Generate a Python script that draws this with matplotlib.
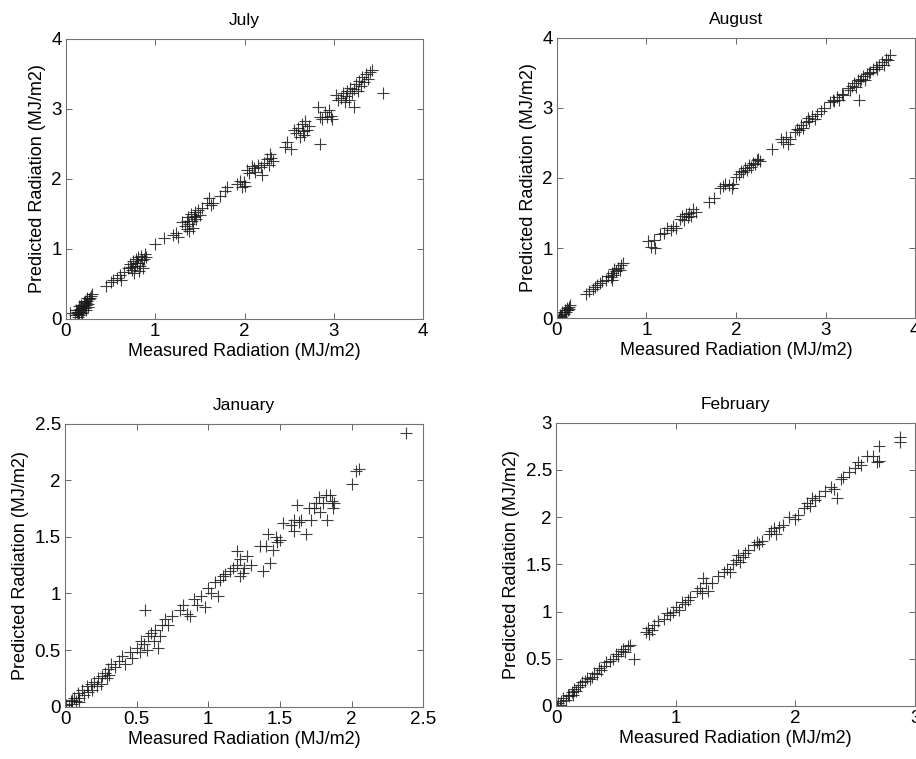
"""Four-panel scatter: predicted vs measured hourly radiation for four months."""

import matplotlib

matplotlib.use("Agg")
import matplotlib.pyplot as plt

plt.rcParams["font.family"] = ["Liberation Sans", "DejaVu Sans"]

# ---- data (MJ/m2) ----
july_measured = [
    0.04, 0.10, 0.12, 0.13, 0.14, 0.15, 0.16, 0.17, 0.18, 0.19, 0.20, 0.21, 0.22,
    0.23, 0.24, 0.25, 0.26, 0.27, 0.28, 0.13, 0.18, 0.22, 0.25, 0.20, 0.15,
    0.11, 0.14, 0.17, 0.21, 0.24, 0.29,
    0.45, 0.50, 0.53, 0.57, 0.60, 0.62, 0.65,
    0.70, 0.72, 0.74, 0.75, 0.77, 0.78, 0.80, 0.81, 0.83, 0.84, 0.85, 0.86, 0.87,
    0.88, 0.82, 0.76, 0.90, 0.79, 0.73,
    1.00, 1.10, 1.20, 1.23, 1.25,
    1.30, 1.33, 1.35, 1.37, 1.38, 1.40, 1.41, 1.43, 1.45, 1.46, 1.48, 1.50, 1.38,
    1.42, 1.52, 1.36, 1.44,
    1.58, 1.60, 1.62, 1.65, 1.72, 1.78, 1.80,
    1.92, 1.95, 1.97, 1.99, 2.00,
    2.03, 2.05, 2.08, 2.10, 2.12, 2.15, 2.18, 2.20, 2.22, 2.25, 2.27, 2.28, 2.30,
    2.32,
    2.45, 2.48, 2.52,
    2.58, 2.60, 2.62, 2.64, 2.65, 2.67, 2.68, 2.70, 2.72, 2.55,
    2.82, 2.85, 2.87, 2.90, 2.92, 2.95, 2.97, 2.98, 2.85,
    3.02, 3.05, 3.08, 3.10, 3.12, 3.14, 3.15, 3.17, 3.18, 3.20, 3.22, 3.23, 3.25,
    3.27, 3.28, 3.30, 3.32, 3.34, 3.36, 3.38, 3.40, 3.43, 3.55,
]
july_predicted = [
    0.08, 0.05, 0.10, 0.07, 0.12, 0.05, 0.14, 0.10, 0.16, 0.12, 0.18, 0.15, 0.22,
    0.19, 0.25, 0.21, 0.28, 0.30, 0.33, 0.03, 0.08, 0.12, 0.17, 0.24, 0.18,
    0.13, 0.09, 0.20, 0.26, 0.30, 0.36,
    0.47, 0.52, 0.55, 0.58, 0.63, 0.55, 0.67,
    0.72, 0.78, 0.70, 0.82, 0.75, 0.85, 0.80, 0.88, 0.76, 0.90, 0.84, 0.72, 0.86,
    0.93, 0.68, 0.66, 0.88, 0.79, 0.74,
    1.07, 1.15, 1.19, 1.22, 1.17,
    1.38, 1.33, 1.28, 1.45, 1.35, 1.50, 1.40, 1.45, 1.52, 1.42, 1.55, 1.48, 1.25,
    1.30, 1.58, 1.40, 1.47,
    1.65, 1.72, 1.62, 1.65, 1.75, 1.82, 1.88,
    1.93, 1.97, 1.88, 1.95, 1.90,
    2.12, 2.08, 2.18, 2.15, 2.10, 2.20, 2.17, 2.05, 2.22, 2.28, 2.20, 2.35, 2.30,
    2.25,
    2.45, 2.52, 2.42,
    2.65, 2.72, 2.60, 2.78, 2.68, 2.62, 2.82, 2.70, 2.75, 2.70,
    3.02, 2.88, 2.85, 2.95, 2.88, 2.98, 2.90, 2.85, 2.50,
    3.20, 3.12, 3.15, 3.22, 3.10, 3.18, 3.25, 3.12, 3.30, 3.22, 3.28, 3.02, 3.35,
    3.25, 3.40, 3.32, 3.45, 3.38, 3.50, 3.42, 3.52, 3.55, 3.22,
]

august_measured = [
    0.02, 0.03, 0.05, 0.06, 0.08, 0.09, 0.10, 0.11, 0.12, 0.13, 0.14, 0.15, 0.04,
    0.33, 0.36, 0.40, 0.42, 0.45, 0.48, 0.50,
    0.55, 0.57, 0.60, 0.61, 0.63, 0.64, 0.66, 0.68, 0.70, 0.72, 0.74, 0.62,
    1.02, 1.05, 1.08, 1.10, 1.15, 1.20, 1.23, 1.27, 1.30, 1.33,
    1.38, 1.40, 1.42, 1.44, 1.46, 1.48, 1.50, 1.52, 1.55,
    1.70, 1.75,
    1.82, 1.85, 1.88, 1.92, 1.95, 1.97,
    2.00, 2.03, 2.06, 2.08, 2.10, 2.12, 2.15, 2.17, 2.19, 2.21, 2.23, 2.25, 2.27,
    2.40,
    2.50, 2.53, 2.56, 2.58, 2.60,
    2.66, 2.68, 2.70, 2.73, 2.75, 2.78, 2.80, 2.82, 2.85, 2.88, 2.90,
    2.95, 2.98,
    3.05, 3.08, 3.10, 3.13, 3.15, 3.18, 3.20,
    3.25, 3.27, 3.30, 3.32, 3.34, 3.36, 3.38, 3.40, 3.42, 3.44, 3.46, 3.48, 3.37,
    3.50, 3.53, 3.56, 3.58, 3.60, 3.63, 3.65, 3.68, 3.70, 3.72,
]
august_predicted = [
    0.00, 0.05, 0.03, 0.08, 0.06, 0.12, 0.09, 0.14, 0.11, 0.16, 0.13, 0.18, 0.02,
    0.35, 0.38, 0.42, 0.45, 0.47, 0.50, 0.53,
    0.55, 0.60, 0.58, 0.65, 0.62, 0.70, 0.67, 0.72, 0.68, 0.76, 0.78, 0.55,
    1.10, 1.02, 1.12, 1.00, 1.20, 1.22, 1.28, 1.25, 1.32, 1.28,
    1.42, 1.45, 1.40, 1.48, 1.44, 1.50, 1.46, 1.55, 1.52,
    1.65, 1.72,
    1.85, 1.88, 1.92, 1.90, 1.85, 1.92,
    2.02, 2.05, 2.10, 2.08, 2.14, 2.12, 2.18, 2.15, 2.22, 2.20, 2.25, 2.27, 2.24,
    2.42,
    2.55, 2.52, 2.58, 2.48, 2.56,
    2.65, 2.70, 2.68, 2.75, 2.72, 2.80, 2.85, 2.82, 2.88, 2.84, 2.92,
    2.95, 3.00,
    3.08, 3.12, 3.10, 3.15, 3.12, 3.20, 3.18,
    3.28, 3.25, 3.32, 3.35, 3.30, 3.40, 3.38, 3.42, 3.45, 3.40, 3.48, 3.50, 3.12,
    3.52, 3.55, 3.58, 3.55, 3.62, 3.65, 3.62, 3.70, 3.68, 3.75,
]

january_measured = [
    0.01, 0.03, 0.04, 0.05, 0.06, 0.08, 0.09, 0.10, 0.12, 0.13, 0.15, 0.16, 0.18,
    0.19, 0.20, 0.22, 0.23, 0.25, 0.26, 0.28, 0.29, 0.30, 0.31, 0.32, 0.35, 0.38,
    0.40, 0.42, 0.45, 0.47, 0.50, 0.52, 0.53, 0.55, 0.57, 0.58, 0.60, 0.62, 0.63,
    0.65, 0.66, 0.56, 0.10, 0.05,
    0.68, 0.70, 0.72, 0.75, 0.80, 0.82, 0.85, 0.87, 0.90, 0.92, 0.95, 0.98, 1.00,
    1.02, 1.05, 1.07, 1.08, 1.10, 1.12, 1.15, 1.17, 1.20, 1.22, 1.24, 1.30,
    1.20, 1.22, 1.25, 1.27, 1.36, 1.38, 1.40, 1.43, 1.45, 1.42, 1.47, 1.48, 1.50,
    1.52, 1.58, 1.60, 1.60, 1.62, 1.63, 1.65, 1.68, 1.70, 1.72, 1.74, 1.75, 1.77,
    1.78, 1.80, 1.82, 1.83, 1.85, 1.86, 1.87, 1.88,
    2.00, 2.03, 2.05, 2.38,
]
january_predicted = [
    0.01, 0.00, 0.05, 0.02, 0.08, 0.05, 0.12, 0.08, 0.15, 0.10, 0.18, 0.13, 0.20,
    0.15, 0.22, 0.18, 0.25, 0.20, 0.27, 0.30, 0.25, 0.33, 0.28, 0.38, 0.35, 0.40,
    0.45, 0.38, 0.48, 0.43, 0.52, 0.48, 0.58, 0.55, 0.50, 0.62, 0.65, 0.58, 0.68,
    0.52, 0.62, 0.85, 0.04, 0.06,
    0.72, 0.77, 0.72, 0.80, 0.85, 0.90, 0.82, 0.80, 0.95, 0.90, 0.98, 0.88, 1.05,
    1.00, 1.10, 0.98, 1.12, 1.15, 1.17, 1.20, 1.22, 1.25, 1.15, 1.18, 1.25,
    1.37, 1.30, 1.22, 1.33, 1.42, 1.20, 1.42, 1.27, 1.38, 1.52, 1.50, 1.45, 1.47,
    1.62, 1.60, 1.55, 1.65, 1.78, 1.63, 1.65, 1.52, 1.75, 1.65, 1.75, 1.80, 1.85,
    1.72, 1.80, 1.87, 1.65, 1.87, 1.82, 1.75, 1.80,
    1.97, 2.08, 2.10, 2.42,
]

february_measured = [
    0.01, 0.02, 0.03, 0.04, 0.06, 0.08, 0.10, 0.11, 0.13, 0.14, 0.15, 0.17, 0.18,
    0.20, 0.22, 0.24, 0.26, 0.28, 0.30, 0.32, 0.34, 0.36, 0.38, 0.40, 0.42, 0.45,
    0.48, 0.50, 0.52, 0.54, 0.56, 0.58, 0.60, 0.62, 0.65,
    0.75, 0.77, 0.78, 0.80, 0.82, 0.85, 0.90, 0.93, 0.95, 0.98, 1.00, 1.03, 1.05,
    1.08, 1.10, 1.12,
    1.18, 1.20, 1.22, 1.23, 1.25, 1.27, 1.30, 1.35, 1.40, 1.43, 1.45, 1.48,
    1.50, 1.52, 1.54, 1.56, 1.58, 1.60, 1.65, 1.68, 1.70, 1.72,
    1.78, 1.80, 1.82, 1.84, 1.86, 1.90, 1.95, 2.00, 2.02,
    2.07, 2.10, 2.12, 2.14, 2.16, 2.20, 2.25, 2.30, 2.32, 2.35, 2.38, 2.40,
    2.45, 2.50, 2.52, 2.55, 2.60, 2.65, 2.68, 2.70, 2.70, 2.87, 2.87,
]
february_predicted = [
    0.00, 0.03, 0.01, 0.05, 0.08, 0.06, 0.12, 0.10, 0.15, 0.12, 0.18, 0.16, 0.20,
    0.22, 0.25, 0.26, 0.30, 0.29, 0.31, 0.35, 0.34, 0.40, 0.38, 0.42, 0.46, 0.48,
    0.50, 0.55, 0.53, 0.58, 0.60, 0.57, 0.63, 0.65, 0.50,
    0.78, 0.82, 0.76, 0.80, 0.86, 0.90, 0.92, 0.98, 0.96, 1.00, 1.05, 1.02, 1.10,
    1.08, 1.12, 1.15,
    1.22, 1.25, 1.20, 1.35, 1.30, 1.22, 1.30, 1.38, 1.42, 1.45, 1.42, 1.50,
    1.55, 1.60, 1.52, 1.58, 1.62, 1.65, 1.70, 1.74, 1.72, 1.75,
    1.82, 1.85, 1.88, 1.82, 1.90, 1.92, 2.00, 1.98, 2.02,
    2.10, 2.15, 2.12, 2.20, 2.18, 2.22, 2.28, 2.32, 2.30, 2.20, 2.40, 2.42,
    2.48, 2.52, 2.58, 2.55, 2.65, 2.65, 2.58, 2.75, 2.60, 2.85, 2.80,
]

panels = [
    ("July", july_measured, july_predicted, [0, 1, 2, 3, 4], ["0", "1", "2", "3", "4"]),
    ("August", august_measured, august_predicted, [0, 1, 2, 3, 4], ["0", "1", "2", "3", "4"]),
    ("January", january_measured, january_predicted,
     [0, 0.5, 1, 1.5, 2, 2.5], ["0", "0.5", "1", "1.5", "2", "2.5"]),
    ("February", february_measured, february_predicted,
     [0, 1, 2, 3], ["0", "1", "2", "3"]),
]
feb_yticks = [0, 0.5, 1, 1.5, 2, 2.5, 3]
feb_ylabels = ["0", "0.5", "1", "1.5", "2", "2.5", "3"]

rects = [
    [0.072, 0.580, 0.390, 0.369],
    [0.608, 0.581, 0.391, 0.369],
    [0.071, 0.069, 0.391, 0.373],
    [0.607, 0.070, 0.392, 0.373],
]

fig = plt.figure(figsize=(9.16, 7.59), dpi=100)
for (title, xs, ys, ticks, labels), rect in zip(panels, rects):
    ax = fig.add_axes(rect)
    ax.plot(xs, ys, linestyle="none", marker="+", markersize=8.5,
            markeredgewidth=0.8, color="0.1", alpha=0.85)
    ax.set_xlim(ticks[0], ticks[-1])
    ax.set_xticks(ticks)
    ax.set_xticklabels(labels)
    if title == "February":
        ax.set_ylim(0, 3)
        ax.set_yticks(feb_yticks)
        ax.set_yticklabels(feb_ylabels)
    else:
        ax.set_ylim(ticks[0], ticks[-1])
        ax.set_yticks(ticks)
        ax.set_yticklabels(labels)
    ax.set_title(title, fontsize=12.5, pad=10)
    ax.set_xlabel("Measured Radiation (MJ/m2)", fontsize=13, labelpad=2)
    ax.set_ylabel("Predicted Radiation (MJ/m2)", fontsize=13, labelpad=4)
    ax.tick_params(direction="in", top=True, right=True, length=4,
                   width=0.6, color="0.3", labelsize=13.5, pad=3)
    for spine in ax.spines.values():
        spine.set_color("0.45")
        spine.set_linewidth(0.8)

fig.savefig("out.png", dpi=100)
